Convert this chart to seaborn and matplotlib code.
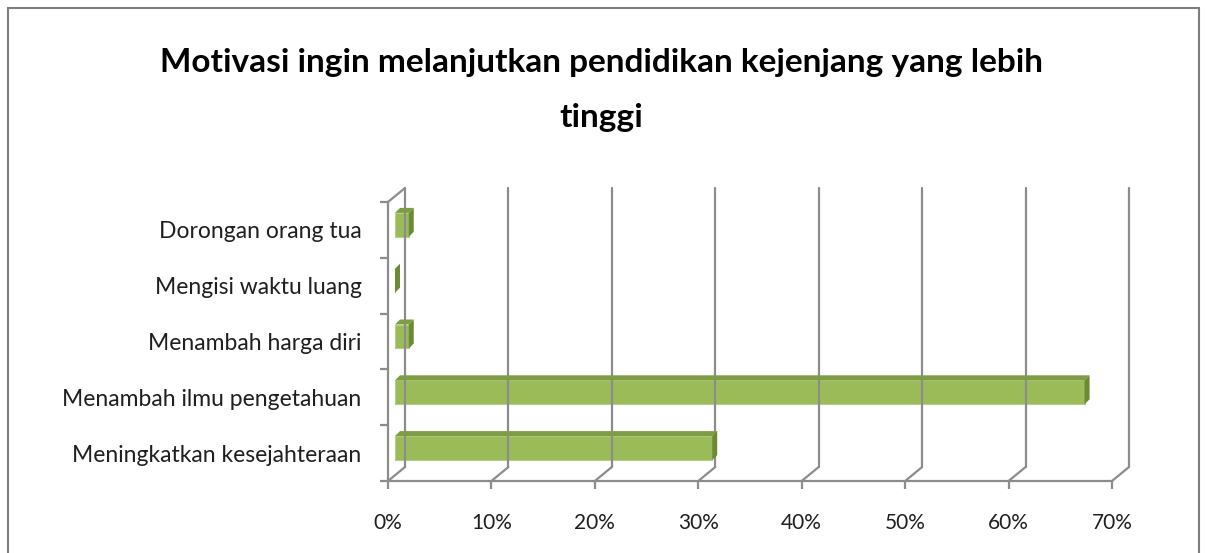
import numpy as np
import pandas as pd
import matplotlib
matplotlib.use("Agg")
import matplotlib.pyplot as plt
import matplotlib.transforms as mtransforms
from matplotlib.patches import Polygon, Rectangle
from matplotlib.lines import Line2D
import seaborn as sns

# ---- data ----
categories = ["Dorongan orang tua", "Mengisi waktu luang", "Menambah harga diri",
              "Menambah ilmu pengetahuan", "Meningkatkan kesejahteraan"]
values = [1.33, 0.0, 1.33, 66.67, 30.67]
x_ticks = [0, 10, 20, 30, 40, 50, 60, 70]
x_tick_labels = ["0%", "10%", "20%", "30%", "40%", "50%", "60%", "70%"]
title = "Motivasi ingin melanjutkan pendidikan kejenjang yang lebih\ntinggi"

W, H = 1207, 553
DPI = 100
sns.set_theme(style="white")
plt.rcParams['font.family'] = ['Lato', 'DejaVu Sans']

fig = plt.figure(figsize=(W / DPI, H / DPI), dpi=DPI)
ax = fig.add_axes([388 / W, 1 - 481 / H, (1112 - 388) / W, (481 - 202) / H])
ax.set_facecolor("none")

df = pd.DataFrame({"cat": categories, "val": values})
sns.barplot(data=df, x="val", y="cat", orient="h", color="#9BBB59",
            saturation=1, width=0.43, ax=ax, edgecolor="#B5CF82", linewidth=0.8)

ax.set_xlim(0, 70)
ax.set_ylim(len(categories) - 0.5, -0.5)
ax.set_xlabel("")
ax.set_ylabel("")

GRID = "#8C8C8C"
TXT = "#1F1F1F"

# depth offsets in pixels
BACK_DX, BACK_DY = 17, 14       # back wall
BAR_DX, BAR_DY = 7, 5           # bar front face offset
DEP_DX, DEP_DY = 5, 5           # bar depth

def off(dx, dy):
    return mtransforms.ScaledTranslation(dx / DPI, dy / DPI, fig.dpi_scale_trans)

fig.canvas.draw()
T = ax.transData
ident = mtransforms.IdentityTransform()

# spines / ticks
for s in ["top", "right"]:
    ax.spines[s].set_visible(False)
for s in ["left", "bottom"]:
    ax.spines[s].set_color(GRID)
    ax.spines[s].set_linewidth(1.6)

ax.set_xticks(x_ticks)
ax.set_xticklabels(x_tick_labels)
ax.set_yticks(range(len(categories)))
ax.set_yticklabels(categories)
ax.set_yticks(np.arange(-0.5, len(categories), 1.0), minor=True)
ax.tick_params(axis="y", which="major", length=0, pad=19, labelsize=16.5, labelcolor=TXT)
ax.tick_params(axis="y", which="minor", length=6, width=1.6, color=GRID, direction="out", left=True)
ax.tick_params(axis="x", which="major", length=6, width=1.6, color=GRID, pad=17,
               labelsize=15, labelcolor=TXT, bottom=True)

y_top, y_bot = -0.5, len(categories) - 0.5

# back-wall gridlines and floor diagonals
for xv in x_ticks:
    (fx, fyb) = T.transform((xv, y_bot))
    (_, fyt) = T.transform((xv, y_top))
    fig.add_artist(Line2D([fx + BACK_DX, fx + BACK_DX], [fyb + BACK_DY, fyt + BACK_DY],
                          transform=ident, color=GRID, lw=1.6, zorder=0.5))
    fig.add_artist(Line2D([fx, fx + BACK_DX], [fyb, fyb + BACK_DY],
                          transform=ident, color=GRID, lw=1.6, zorder=0.5))
# top-left diagonal of side wall
(fx0, fyt0) = T.transform((0, y_top))
fig.add_artist(Line2D([fx0, fx0 + BACK_DX], [fyt0, fyt0 + BACK_DY],
                      transform=ident, color=GRID, lw=1.6, zorder=0.5))

# 3D bars: shift front faces, add top and side faces
for p in ax.patches:
    x0, y0 = p.get_x(), p.get_y()
    w, h = p.get_width(), p.get_height()
    (px0, pyA) = T.transform((x0, y0))
    (px1, pyB) = T.transform((x0 + w, y0 + h))
    ytop_px = max(pyA, pyB) + BAR_DY
    ybot_px = min(pyA, pyB) + BAR_DY
    xl = px0 + BAR_DX
    xr = px1 + BAR_DX
    p.set_transform(T + off(BAR_DX, BAR_DY))
    p.set_zorder(3)
    # top face
    if w > 0:
        fig.add_artist(Polygon([[xl, ytop_px], [xr, ytop_px], [xr + DEP_DX, ytop_px + DEP_DY],
                                [xl + DEP_DX, ytop_px + DEP_DY]], closed=True, transform=ident,
                               facecolor="#7E9C45", edgecolor="none", zorder=3))
    # right side face
    fig.add_artist(Polygon([[xr, ybot_px], [xr + DEP_DX, ybot_px + DEP_DY],
                            [xr + DEP_DX, ytop_px + DEP_DY], [xr, ytop_px]], closed=True,
                           transform=ident, facecolor="#6B8A33", edgecolor="none", zorder=3))

# title
fig.text(601 / W, 1 - 90 / H, title, ha="center", va="center", fontsize=24,
         fontweight="bold", color="black", linespacing=2.05)

# outer border
fig.add_artist(Rectangle((8 / W, -0.05), (1199 - 8) / W, (553 - 8) / H + 0.05,
                         transform=fig.transFigure, fill=False, edgecolor="#7F7F7F", lw=1.5))

fig.savefig("out.png", dpi=DPI)
